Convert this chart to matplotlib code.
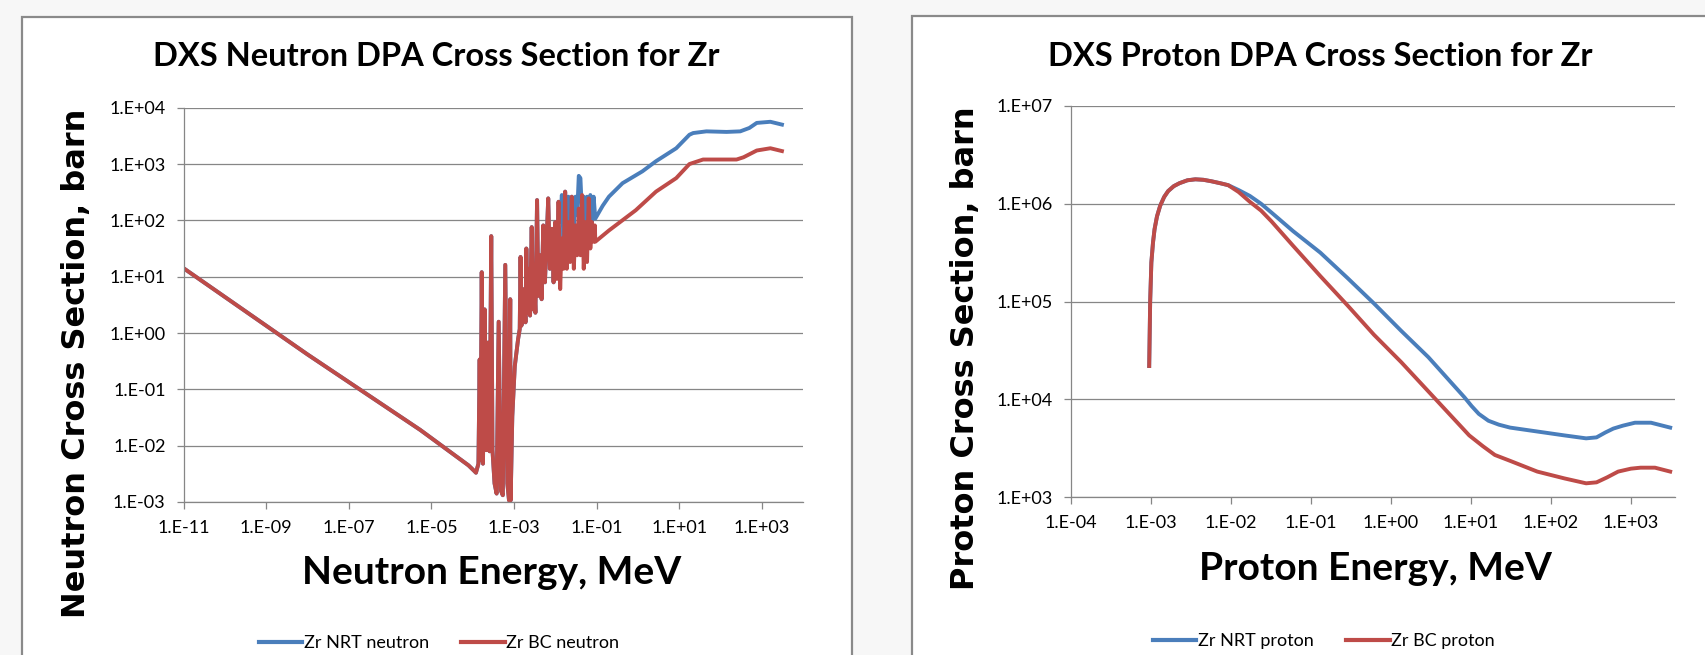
import matplotlib
matplotlib.use("Agg")
import matplotlib.pyplot as plt
import numpy as np
from matplotlib.patches import Rectangle
from matplotlib.lines import Line2D
from matplotlib.ticker import FixedLocator, NullLocator

BLUE = "#4a7ebb"
RED = "#be4b48"
GRID = "#868686"
FRAME = "#8a8a8a"

# ---- neutron data (log10 MeV, log10 barn) ----
# shared 1/v branch and low resonances (both curves coincide here)
n_low_logE = [-11.0, -8.0, -5.27, -4.1, -3.96, -3.92, -3.86, -3.83, -3.81, -3.78,
              -3.75, -3.71, -3.67, -3.63, -3.59, -3.55, -3.52, -3.47, -3.42, -3.37,
              -3.32, -3.27, -3.21, -3.16, -3.12, -3.09, -3.08, -3.04, -2.98, -2.90,
              -2.86, -2.84, -2.82, -2.78, -2.75, -2.72, -2.70, -2.67, -2.64, -2.61,
              -2.57, -2.54, -2.51, -2.48, -2.44, -2.41, -2.37, -2.33, -2.29, -2.25,
              -2.21, -2.17, -2.13, -2.08, -2.04, -2.00]
n_low_logxs = [1.15, -0.38, -1.72, -2.35, -2.45, -2.48, -2.32, -0.47, -2.26, 1.08,
               -2.32, 0.42, -2.08, -0.17, -2.1, 1.72, -2.08, -2.67, -2.85, 0.20,
               -2.79, -2.88, 1.21, -2.67, -2.97, 0.60, -2.97, -1.48, -0.59, -0.11,
               0.07, 1.35, 0.13, 0.31, 0.78, 0.19, 1.50, 0.36, 1.14, 0.31,
               1.88, 0.42, 0.90, 0.36, 2.36, 0.66, 1.38, 0.60, 1.91, 0.90,
               1.62, 2.39, 1.14, 1.85, 0.90, 1.97]

nrt_n_logE = [-1.96, -1.92, -1.88, -1.84, -1.80, -1.76, -1.72, -1.68, -1.64, -1.60,
              -1.55, -1.51, -1.47, -1.43, -1.39, -1.35, -1.31, -1.27, -1.23, -1.19,
              -1.15, -1.11, -1.07, -1.03, -0.85, -0.70, -0.37, 0.11, 0.44, 0.93, 1.25,
              1.34, 1.66, 2.15, 2.48, 2.70, 2.88, 3.21, 3.49]
nrt_n_logxs = [1.14, 2.33, 1.97, 2.45, 1.62, 2.51, 1.85, 2.42, 1.97, 2.42,
               1.85, 2.42, 2.09, 2.79, 2.75, 2.09, 2.42, 1.97, 2.42, 2.09,
               2.45, 1.97, 2.42, 2.03, 2.26, 2.42, 2.66, 2.87, 3.05, 3.28, 3.52,
               3.55, 3.58, 3.57, 3.58, 3.64, 3.73, 3.75, 3.70]

bc_n_logE = [-1.96, -1.92, -1.88, -1.84, -1.80, -1.76, -1.72, -1.68, -1.64, -1.60,
             -1.55, -1.51, -1.47, -1.43, -1.39, -1.35, -1.31, -1.27, -1.23, -1.19,
             -1.15, -1.11, -1.07, -1.04, -1.03, -0.70, -0.05, 0.44, 0.93, 1.25,
             1.58, 2.39, 2.56, 2.88, 3.21, 3.49]
bc_n_logxs = [0.96, 2.33, 0.78, 1.68, 1.14, 2.51, 1.14, 1.97, 1.26, 2.42,
              1.14, 1.91, 1.38, 2.21, 1.38, 2.45, 1.14, 1.97, 1.26, 2.39,
              1.50, 1.97, 1.62, 1.91, 1.62, 1.82, 2.18, 2.51, 2.75, 3.00,
              3.08, 3.08, 3.12, 3.24, 3.28, 3.23]

# ---- proton data (log10 MeV, log10 barn) ----
p_low_logE = [-3.017, -3.005, -2.99, -2.97, -2.95, -2.92, -2.88, -2.83, -2.78, -2.71,
              -2.64, -2.54, -2.44, -2.34, -2.24, -2.13, -2.03]
p_low_logxs = [4.34, 5.0, 5.40, 5.60, 5.74, 5.87, 5.98, 6.07, 6.13, 6.18,
               6.21, 6.24, 6.25, 6.245, 6.23, 6.21, 6.19]

nrt_p_logE = [-1.90, -1.76, -1.62, -1.49, -1.22, -0.88, -0.54, -0.21, 0.13, 0.47,
              0.81, 0.92, 1.01, 1.10, 1.22, 1.35, 1.49, 1.83, 2.17, 2.44,
              2.57, 2.68, 2.78, 2.90, 3.05, 3.25, 3.49]
nrt_p_logxs = [6.14, 6.08, 6.00, 5.91, 5.72, 5.50, 5.24, 4.98, 4.70, 4.43,
               4.12, 4.02, 3.93, 3.85, 3.78, 3.74, 3.71, 3.67, 3.63, 3.60,
               3.61, 3.66, 3.70, 3.73, 3.76, 3.76, 3.71]

bc_p_logE = [-1.90, -1.76, -1.62, -1.49, -1.22, -0.88, -0.54, -0.21, 0.13, 0.47,
             0.81, 0.98, 1.15, 1.30, 1.49, 1.83, 2.17, 2.44, 2.57, 2.70,
             2.84, 3.00, 3.12, 3.30, 3.49]
bc_p_logxs = [6.12, 6.02, 5.93, 5.82, 5.57, 5.26, 4.96, 4.66, 4.38, 4.08,
              3.78, 3.63, 3.52, 3.43, 3.37, 3.26, 3.19, 3.14, 3.15, 3.20,
              3.26, 3.29, 3.30, 3.30, 3.26]

n_xticks = [1e-11, 1e-9, 1e-7, 1e-5, 1e-3, 1e-1, 1e1, 1e3]
n_xlabels = ["1.E-11", "1.E-09", "1.E-07", "1.E-05", "1.E-03", "1.E-01", "1.E+01", "1.E+03"]
n_yticks = [1e-3, 1e-2, 1e-1, 1e0, 1e1, 1e2, 1e3, 1e4]
n_ylabels = ["1.E-03", "1.E-02", "1.E-01", "1.E+00", "1.E+01", "1.E+02", "1.E+03", "1.E+04"]

p_xticks = [1e-4, 1e-3, 1e-2, 1e-1, 1e0, 1e1, 1e2, 1e3]
p_xlabels = ["1.E-04", "1.E-03", "1.E-02", "1.E-01", "1.E+00", "1.E+01", "1.E+02", "1.E+03"]
p_yticks = [1e3, 1e4, 1e5, 1e6, 1e7]
p_ylabels = ["1.E+03", "1.E+04", "1.E+05", "1.E+06", "1.E+07"]

FONT = "Lato"
W, H = 1705, 655


def pow10(a):
    return 10 ** np.asarray(a, dtype=float)


def style_axes(ax, xticks, xlabels, yticks, ylabels, xlim, ylim):
    ax.set_xscale("log")
    ax.set_yscale("log")
    ax.set_xlim(*xlim)
    ax.set_ylim(*ylim)
    ax.xaxis.set_major_locator(FixedLocator(xticks))
    ax.xaxis.set_minor_locator(NullLocator())
    ax.yaxis.set_major_locator(FixedLocator(yticks))
    ax.yaxis.set_minor_locator(NullLocator())
    ax.set_xticklabels(xlabels, family=FONT, fontsize=13)
    ax.set_yticklabels(ylabels, family=FONT, fontsize=13)
    for s in ["top", "right"]:
        ax.spines[s].set_visible(False)
    for s in ["left", "bottom"]:
        ax.spines[s].set_color(GRID)
        ax.spines[s].set_linewidth(0.9)
    ax.grid(axis="y", color=GRID, lw=0.9)
    ax.set_axisbelow(True)
    ax.tick_params(direction="out", length=5, width=0.9, color=GRID,
                   labelcolor="black", pad=8)
    ax.set_facecolor("white")


fig = plt.figure(figsize=(W / 100, H / 100), dpi=100)
fig.patch.set_facecolor("#f7f7f7")

# chart frames
fig.patches.append(Rectangle((22 / W, -0.05), (852 - 22) / W, 1.05 - 17 / H,
                             transform=fig.transFigure, fc="white", ec=FRAME,
                             lw=1.6, zorder=-2))
fig.patches.append(Rectangle((912 / W, -0.05), 0.5, 1.05 - 16 / H,
                             transform=fig.transFigure, fc="white", ec=FRAME,
                             lw=1.6, zorder=-2))

# neutron chart
ax1 = fig.add_axes([183.6 / W, 1 - 502 / H, (803 - 183.6) / W, (502 - 107.7) / H])
nrt_e = pow10(n_low_logE + nrt_n_logE)
nrt_xs = pow10(n_low_logxs + nrt_n_logxs)
bc_e = pow10(n_low_logE + bc_n_logE)
bc_xs = pow10(n_low_logxs + bc_n_logxs)
ax1.plot(nrt_e, nrt_xs, color=BLUE, lw=2.8, solid_joinstyle="round")
ax1.plot(bc_e, bc_xs, color=RED, lw=2.8, solid_joinstyle="round")
style_axes(ax1, n_xticks, n_xlabels, n_yticks, n_ylabels, (1e-11, 1e4), (1e-3, 1e4))

# proton chart
ax2 = fig.add_axes([1070.5 / W, 1 - 497 / H, (1675 - 1070.5) / W, (497 - 106) / H])
ax2.plot(pow10(p_low_logE + nrt_p_logE), pow10(p_low_logxs + nrt_p_logxs),
         color=BLUE, lw=2.8, solid_joinstyle="round")
ax2.plot(pow10(p_low_logE + bc_p_logE), pow10(p_low_logxs + bc_p_logxs),
         color=RED, lw=2.8, solid_joinstyle="round")
style_axes(ax2, p_xticks, p_xlabels, p_yticks, p_ylabels, (1e-4, 10 ** 3.55), (1e3, 1e7))

# titles and labels
fig.text(436 / W, 1 - 57 / H, "DXS Neutron DPA Cross Section for Zr", ha="center",
         va="center", family=FONT, weight="bold", fontsize=23.5)
fig.text(1320 / W, 1 - 57 / H, "DXS Proton DPA Cross Section for Zr", ha="center",
         va="center", family=FONT, weight="bold", fontsize=23.5)
fig.text(492 / W, 1 - 573 / H, "Neutron Energy, MeV", ha="center", va="center",
         family=FONT, weight="bold", fontsize=28)
fig.text(1375 / W, 1 - 569 / H, "Proton Energy, MeV", ha="center", va="center",
         family=FONT, weight="bold", fontsize=28)
fig.text(77 / W, 1 - 363 / H, "Neutron Cross Section, barn", rotation=90,
         ha="center", va="center", family="DejaVu Sans", weight="bold", fontsize=23)
fig.text(966 / W, 1 - 348 / H, "Proton Cross Section, barn", rotation=90,
         ha="center", va="center", family="DejaVu Sans", weight="bold", fontsize=23)

# legends
def add_legend(labels, xc, yc):
    handles = [Line2D([], [], color=BLUE, lw=3), Line2D([], [], color=RED, lw=3)]
    fig.legend(handles, labels, loc="center", bbox_to_anchor=(xc / W, 1 - yc / H),
               ncol=2, frameon=False, handlelength=2.4, handletextpad=0.1,
               columnspacing=1.8, prop={"family": FONT, "size": 13})

add_legend(["Zr NRT neutron", "Zr BC neutron"], 439, 643)
add_legend(["Zr NRT proton", "Zr BC proton"], 1324, 641)

fig.savefig("out.png", dpi=100, facecolor=fig.get_facecolor())
